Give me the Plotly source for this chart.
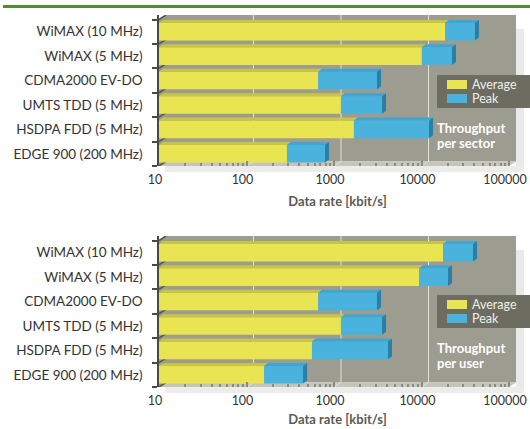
import plotly.graph_objects as go

# ---- data -------------------------------------------------------------
categories = [
    "WiMAX (10 MHz)",
    "WiMAX (5 MHz)",
    "CDMA2000 EV-DO",
    "UMTS TDD (5 MHz)",
    "HSDPA FDD (5 MHz)",
    "EDGE 900 (200 MHz)",
]
# throughput per sector [kbit/s]
sector_avg = [18600, 10100, 660, 1200, 1690, 290]
sector_peak = [40800, 22300, 3100, 3540, 12200, 790]
# throughput per user [kbit/s]
user_avg = [17600, 9400, 660, 1200, 560, 159]
user_peak = [38800, 20100, 3100, 3540, 4140, 443]

x_tickvals = [10, 100, 1000, 10000, 100000]
x_ticktext = ["10", "100", "1000", "10000", "100000"]
x_title = "Data rate [kbit/s]"
series_names = ["Average", "Peak"]

# ---- style / geometry -------------------------------------------------
W, H = 530, 429
FONT = "Lato"
YEL, YEL_TOP = "#e9e552", "#c9c544"
BLUE, BLUE_TOP, BLUE_SIDE = "#4ab3dd", "#3ea6d0", "#2a7fa6"
WALL, FLOOR, GRID = "#9d9c90", "#c6c5bc", "#e2e2da"
LEG_BG, LEG_TXT = "#6d6c61", "#efefea"
TXT = "#333333"

X0PX, X1PX = 159, 516          # horizontal extent of both plot areas
WALL_DX, WALL_DY = 7, 4.5      # depth offset of the back wall (px)
BAR_DX, BAR_DY = 4, 3          # depth offset of the bar bevels (px)
BAR_W = 0.72

lo_dec, hi_dec = 1, 5          # log10 of 10 .. 100000
ppd = (X1PX - X0PX - WALL_DX) / (hi_dec - lo_dec)   # px per decade

panels = [
    dict(top=15, bottom=166, avg=sector_avg, peak=sector_peak, title_gap=11,
         note=["Throughput", "per sector"], legend_top=75, note_y=[128, 143]),
    dict(top=236, bottom=387, avg=user_avg, peak=user_peak, title_gap=8,
         note=["Throughput", "per user"], legend_top=295, note_y=[348, 363]),
]

n = len(categories)
idx = list(range(n))

fig = go.Figure()
shapes, annotations = [], []


def px(x):
    return x / W


def py(y):
    return 1 - y / H


def faces(segs):
    """Join closed polygons into one x/y list separated by gaps."""
    xs, ys = [], []
    for pts in segs:
        for (xx, yy) in pts + [pts[0]]:
            xs.append(xx)
            ys.append(yy)
        xs.append(None)
        ys.append(None)
    return xs, ys


for k, p in enumerate(panels):
    sfx = "" if k == 0 else str(k + 1)
    xa, ya = "x" + sfx, "y" + sfx
    ppr = (p["bottom"] - p["top"] - WALL_DY) / n     # px per category row
    kw = 10 ** (WALL_DX / ppd)
    dyw = WALL_DY / ppr
    kb = 10 ** (BAR_DX / ppd)
    dyb = BAR_DY / ppr
    y_top = -0.5 - dyw
    y_bot = n - 0.5
    x_min, x_max = 10 ** lo_dec, 10 ** hi_dec

    avg, peak = p["avg"], p["peak"]

    # front faces of the bars
    fig.add_trace(go.Bar(
        y=idx, x=[a - x_min for a in avg], base=[x_min] * n, orientation="h",
        width=BAR_W, marker=dict(color=YEL, line_width=0), name=series_names[0],
        showlegend=False, xaxis=xa, yaxis=ya, hoverinfo="skip"))
    fig.add_trace(go.Bar(
        y=idx, x=[b - a for a, b in zip(avg, peak)], base=avg, orientation="h",
        width=BAR_W, marker=dict(color=BLUE, line_width=0), name=series_names[1],
        showlegend=False, xaxis=xa, yaxis=ya, hoverinfo="skip"))

    # bevel faces (top faces and right-hand side of each bar)
    yel_top, blue_top, blue_side = [], [], []
    for i in idx:
        yt, yb = i - BAR_W / 2, i + BAR_W / 2
        a, b = avg[i], peak[i]
        yel_top.append([(x_min, yt), (a, yt), (a * kb, yt - dyb), (x_min * kb, yt - dyb)])
        blue_top.append([(a, yt), (b, yt), (b * kb, yt - dyb), (a * kb, yt - dyb)])
        blue_side.append([(b, yt), (b * kb, yt - dyb), (b * kb, yb - dyb), (b, yb)])
    for segs, col in [(yel_top, YEL_TOP), (blue_top, BLUE_TOP), (blue_side, BLUE_SIDE)]:
        xs, ys = faces(segs)
        fig.add_trace(go.Scatter(
            x=xs, y=ys, mode="lines", fill="toself", fillcolor=col,
            line=dict(width=0, color=col), showlegend=False, hoverinfo="skip",
            xaxis=xa, yaxis=ya))

    # back wall, side wall and floor
    shapes.append(dict(type="rect", xref=xa, yref=ya, layer="below",
                       x0=x_min * kw, x1=x_max * kw, y0=y_top, y1=y_bot - dyw,
                       fillcolor=WALL, line_width=0))
    shapes.append(dict(type="path", xref=xa, yref=ya, layer="below",
                       path=f"M {x_min},{-0.5} L {x_min * kw},{y_top} "
                            f"L {x_min * kw},{y_bot - dyw} L {x_min},{y_bot} Z",
                       fillcolor=WALL, line_width=0))
    shapes.append(dict(type="path", xref=xa, yref=ya, layer="below",
                       path=f"M {x_min},{y_bot} L {x_max},{y_bot} "
                            f"L {x_max * kw},{y_bot - dyw} L {x_min * kw},{y_bot - dyw} Z",
                       fillcolor=FLOOR, line_width=0))
    # vertical gridlines on the wall, continued across the floor
    for v in x_tickvals[1:-1]:
        shapes.append(dict(type="line", xref=xa, yref=ya, layer="below",
                           x0=v * kw, x1=v * kw, y0=y_top, y1=y_bot - dyw,
                           line=dict(color=GRID, width=1)))
        shapes.append(dict(type="line", xref=xa, yref=ya, layer="below",
                           x0=v * kw, x1=v, y0=y_bot - dyw, y1=y_bot,
                           line=dict(color=GRID, width=1)))
    # category dividers on the side wall
    for j in range(n + 1):
        bnd = j - 0.5
        shapes.append(dict(type="line", xref=xa, yref=ya, layer="below",
                           x0=x_min, x1=x_min * kw, y0=bnd, y1=bnd - dyw,
                           line=dict(color="#55554f", width=1.5)))

    # soft drop shadow to the right and below
    shapes.append(dict(type="rect", xref="paper", yref="paper", layer="below",
                       x0=px(X1PX), x1=px(X1PX + 8), y0=py(p["bottom"] + 4),
                       y1=py(p["top"] + 14), fillcolor="#e9e9e7", line_width=0))
    shapes.append(dict(type="rect", xref="paper", yref="paper", layer="below",
                       x0=px(X0PX + 6), x1=px(X1PX + 8), y0=py(p["bottom"] + 6),
                       y1=py(p["bottom"]), fillcolor="#ececea", line_width=0))

    # legend box
    lt = p["legend_top"]
    shapes.append(dict(type="rect", xref="paper", yref="paper",
                       x0=px(437), x1=px(W), y0=py(lt + 33), y1=py(lt),
                       fillcolor=LEG_BG, line_width=0))
    for r, (col, name) in enumerate([(YEL, series_names[0]), (BLUE, series_names[1])]):
        yc = lt + 9.5 + 14 * r
        shapes.append(dict(type="rect", xref="paper", yref="paper",
                           x0=px(447), x1=px(467), y0=py(yc + 4.5), y1=py(yc - 4.5),
                           fillcolor=col, line_width=0))
        annotations.append(dict(xref="paper", yref="paper", x=px(471), y=py(yc),
                                xanchor="left", yanchor="middle", showarrow=False,
                                borderpad=0,
                                text=name, font=dict(family=FONT, size=12.5, color=LEG_TXT)))
    for line, yy in zip(p["note"], p["note_y"]):
        annotations.append(dict(xref="paper", yref="paper", x=px(436), y=py(yy),
                                xanchor="left", yanchor="middle", showarrow=False,
                                borderpad=0, text=line,
                                font=dict(family=FONT, size=13, color="white", weight="bold")))

    minor_vals = [m * 10 ** d for d in range(lo_dec, hi_dec) for m in range(2, 10)]
    fig.update_layout(**{
        "xaxis" + sfx: dict(
            type="log", range=[lo_dec, hi_dec + WALL_DX / ppd],
            domain=[px(X0PX), px(X1PX)], anchor=ya, automargin=False,
            tickvals=x_tickvals, ticktext=x_ticktext,
            ticks="inside", ticklen=5, tickcolor="#8c8b82", tickwidth=1.5,
            minor=dict(tickvals=minor_vals, ticks="inside", ticklen=3,
                       tickcolor="#8c8b82", tickwidth=1.5),
            showgrid=False, zeroline=False, showline=False,
            ticklabelstandoff=4, ticklabelshift=-4, ticklabeloverflow="allow",
            tickfont=dict(family=FONT, size=12.5, color=TXT),
            title=dict(text=x_title, standoff=p["title_gap"],
                       font=dict(family=FONT, size=13, color="#5a5a55", weight="bold")),
            fixedrange=True,
        ),
        "yaxis" + sfx: dict(
            range=[y_bot, y_top], domain=[py(p["bottom"]), py(p["top"])],
            anchor=xa, automargin=False, tickvals=idx, ticktext=categories,
            ticks="", showgrid=False, zeroline=False,
            showline=True, linecolor="#4a4a45", linewidth=1.5,
            minor=dict(tickvals=[j - 0.5 for j in range(n + 1)], ticks="outside",
                       ticklen=5, tickcolor="#4a4a45", tickwidth=1.5),
            ticklabelstandoff=12,
            tickfont=dict(family=FONT, size=13.5, color=TXT),
            fixedrange=True,
        ),
    })

# green rule across the top
shapes.append(dict(type="line", xref="paper", yref="paper", x0=px(3), x1=1,
                   y0=py(6.5), y1=py(6.5), line=dict(color="#4f8d2f", width=3)))

fig.update_layout(
    width=W, height=H, autosize=False,
    margin=dict(l=0, r=0, t=0, b=0, autoexpand=False),
    paper_bgcolor="white", plot_bgcolor="white",
    barmode="overlay", showlegend=False,
    shapes=shapes, annotations=annotations,
)

fig.write_html("out.html", config={"displayModeBar": False})
